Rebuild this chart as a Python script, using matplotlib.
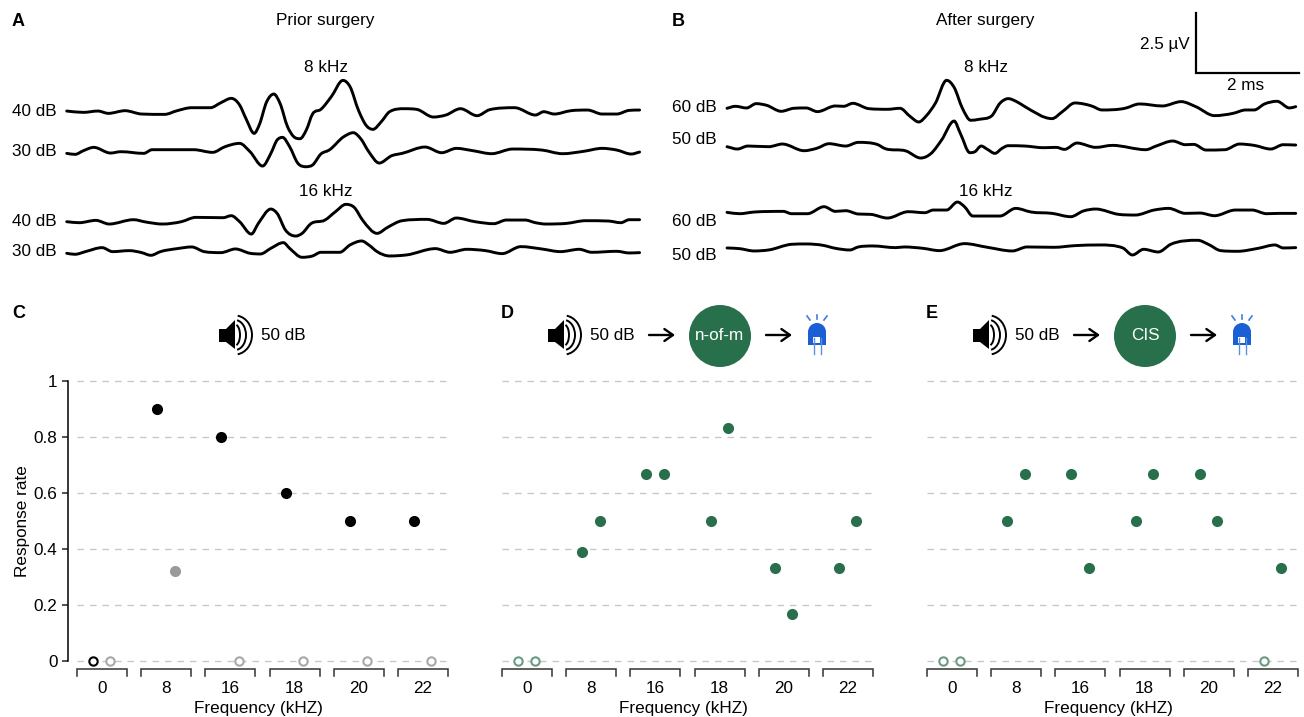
import matplotlib
matplotlib.use('Agg')
import matplotlib.pyplot as plt
from matplotlib.patches import Arc, Circle, PathPatch, Polygon, Rectangle, Wedge
from matplotlib.path import Path
import numpy as np

plt.rcParams['font.family'] = ['Liberation Sans', 'DejaVu Sans']
plt.rcParams['font.size'] = 12.3

# Evoked traces, time in 1/123.6 ms, amplitude in 1/72 uV
a1_t = [160,200,235,260,300,340,395,425,460,505,530,555,575,590,610,622,640,657,672,690,705,720,735,750,770,795,823,840,860,880,895,915,935,970,1000,1040,1070,1105,1145,1175,1235,1285,1305,1330,1370,1410,1445,1480,1510,1535]
a1_v = [2,-2,2,-5,3,-7,-8,3,12,12,27,40,20,-20,-65,-40,30,53,25,-45,-75,-81,-55,-7,7,45,94,75,5,-43,-53,-30,0,9,7,-16,-10,9,-12,6,12,-10,0,-7,3,5,-7,-7,4,5]
a2_t = [160,180,200,225,265,290,345,365,400,465,510,540,575,600,630,650,665,678,695,715,735,750,770,790,825,848,865,885,910,940,965,1020,1060,1095,1135,1180,1230,1300,1350,1400,1445,1480,1515,1535]
a2_v = [-5,-8,3,13,-4,0,-5,6,6,6,-2,15,25,0,-43,-5,35,43,15,-35,-45,-40,-7,5,45,57,40,0,-34,-12,-5,14,-3,10,3,-6,8,5,-6,1,10,5,-7,-1]
a3_t = [160,190,230,262,320,350,390,435,470,535,555,575,603,620,650,665,685,710,725,745,780,805,830,850,870,905,930,965,1025,1065,1095,1140,1185,1215,1260,1285,1310,1360,1405,1460,1490,1510,1535]
a3_v = [0,-3,4,-7,6,-1,-7,0,13,12,18,0,-37,-5,38,25,-25,-43,-35,-7,5,30,52,43,5,-35,-17,3,7,-5,11,0,-6,5,5,-3,-7,-5,3,2,-3,6,6]
a4_t = [160,180,205,245,270,310,340,362,385,425,460,490,530,565,600,625,650,680,695,725,750,770,815,840,868,885,905,935,975,1045,1080,1120,1165,1205,1250,1300,1345,1390,1420,1480,1510,1535]
a4_v = [-3,-6,2,14,2,5,-1,-9,2,11,16,2,-1,10,-3,-5,12,29,12,-15,-11,0,0,22,34,22,2,-11,-8,11,0,9,5,-4,17,10,2,9,0,3,-2,-1]
b1_t = [185,205,232,255,280,315,345,375,402,445,465,487,525,570,600,625,645,665,685,712,730,750,770,790,820,840,860,880,900,965,990,1020,1060,1085,1140,1175,1230,1275,1310,1355,1400,1430,1450,1475,1505,1535,1550]
b1_v = [0,6,1,14,9,-9,0,1,-10,7,6,15,-1,-3,0,-25,-41,-20,15,84,63,0,-36,-33,-23,15,29,20,5,-31,-10,16,7,-5,0,13,7,20,5,-22,-15,-5,-5,13,21,1,5]
b2_t = [185,210,235,285,318,370,400,430,470,500,545,565,615,650,675,700,730,745,768,780,795,810,828,845,860,900,945,975,995,1025,1070,1110,1190,1215,1255,1285,1305,1335,1380,1415,1450,1490,1520,1550]
b2_v = [0,-7,2,0,8,-12,-5,9,2,13,7,-6,-13,-34,-20,20,77,40,-18,-15,2,-8,-20,-5,3,2,-3,-2,-8,11,-2,4,-9,2,17,6,7,-10,-9,8,4,-7,6,5]
b3_t = [185,215,250,320,340,378,418,445,470,500,530,570,620,660,680,712,738,755,775,840,878,915,965,1010,1040,1070,1125,1165,1210,1245,1285,1320,1355,1405,1445,1480,1510,1550]
b3_v = [1,-3,2,4,-3,-3,18,4,6,-4,-5,-16,3,0,8,8,32,18,-10,-10,13,2,-2,-12,5,11,-5,-7,8,13,-2,-1,-9,8,8,-3,-2,-2]
b4_t = [185,215,250,285,340,375,415,445,480,500,535,590,610,655,695,755,810,870,905,970,1020,1080,1135,1158,1185,1220,1250,1315,1340,1370,1410,1460,1500,1520,1550]
b4_v = [1,-1,-8,-5,12,13,9,0,-5,4,7,2,4,0,-7,14,3,-8,4,3,8,10,1,-20,-3,-11,12,24,12,-7,-9,0,10,1,2]

# Response rates, first and second recording in each frequency group
freq_labels = ['0', '8', '16', '18', '20', '22']
c_first = [0, 0.9, 0.8, 0.6, 0.5, 0.5]
c_second = [0, 0.32, 0, 0, 0, 0]
d_first = [0, 0.39, 0.667, 0.5, 0.333, 0.333]
d_second = [0, 0.5, 0.667, 0.833, 0.167, 0.5]
e_first = [0, 0.5, 0.667, 0.5, 0.667, 0]
e_second = [0, 0.667, 0.333, 0.667, 0.5, 0.333]

W, H = 1304, 717
GREEN = '#27704b'
LIGHT_GREEN = '#6b9a82'
BLUE = '#1b5fd6'
PX_PER_MS = 51.5
PX_PER_UV = 24.0

fig = plt.figure(figsize=(W / 100, H / 100), dpi=100)

# trace axes in real units, pixel axes for the text and icons
tr = fig.add_axes([0, 0, 1, 1])
tr.set_xlim(0, W / PX_PER_MS)
tr.set_ylim(-H / PX_PER_UV, 0)
tr.axis('off')

ov = fig.add_axes([0, 0, 1, 1])
ov.set_xlim(0, W)
ov.set_ylim(H, 0)
ov.axis('off')
ov.patch.set_alpha(0)


def draw_trace(t, v, x0, y0):
    t = (np.array(t, dtype=float) - t[0]) / 123.6 + x0 / PX_PER_MS
    v = np.array(v, dtype=float) / 72 - y0 / PX_PER_UV
    # central tangents, limited so the curve does not overshoot at the turning points
    d = np.diff(v) / np.diff(t)
    m = np.gradient(v, t)
    for i in range(1, len(t) - 1):
        if d[i - 1] * d[i] <= 0:
            m[i] = 0
        else:
            m[i] = np.sign(d[i]) * min(abs(m[i]), 3 * abs(d[i - 1]), 3 * abs(d[i]))
    verts = [(t[0], v[0])]
    codes = [Path.MOVETO]
    for i in range(len(t) - 1):
        dt = (t[i + 1] - t[i]) / 3
        verts += [(t[i] + dt, v[i] + m[i] * dt), (t[i + 1] - dt, v[i + 1] - m[i + 1] * dt), (t[i + 1], v[i + 1])]
        codes += [Path.CURVE4] * 3
    tr.add_patch(PathPatch(Path(verts, codes), fill=False, ec='black', lw=2.1, capstyle='round', joinstyle='round'))


draw_trace(a1_t, a1_v, 66.7, 111.7)
draw_trace(a2_t, a2_v, 66.7, 151.7)
draw_trace(a3_t, a3_v, 66.7, 221.7)
draw_trace(a4_t, a4_v, 66.7, 252.3)
draw_trace(b1_t, b1_v, 727, 108.3)
draw_trace(b2_t, b2_v, 727, 146.7)
draw_trace(b3_t, b3_v, 727, 212.7)
draw_trace(b4_t, b4_v, 727, 248.3)

# scale bar, 2 ms and 2.5 uV
sx, sy = 1195.5 / PX_PER_MS, -73 / PX_PER_UV
tr.plot([sx, sx, sx + 2], [sy + 2.5, sy, sy], color='black', lw=1.6, solid_joinstyle='miter')
ov.text(1190, 44.5, '2.5 µV', ha='right', va='center')
ov.text(1246, 86, '2 ms', ha='center', va='center')

ov.text(325, 20.5, 'Prior surgery', ha='center', va='center')
ov.text(985, 20.5, 'After surgery', ha='center', va='center')
for x in [326, 986]:
    ov.text(x, 67, '8 kHz', ha='center', va='center')
    ov.text(x, 191, '16 kHz', ha='center', va='center')
for y, s in zip([111, 151, 221, 251], ['40 dB', '30 dB', '40 dB', '30 dB']):
    ov.text(57, y, s, ha='right', va='center')
for y, s in zip([107, 140, 222, 256], ['60 dB', '50 dB', '60 dB', '50 dB']):
    ov.text(717, y, s, ha='right', va='center')

for x, y, s in [(12, 21.5, 'A'), (672, 21.5, 'B'), (12, 314, 'C'), (501, 314, 'D'), (926, 314, 'E')]:
    ov.text(x, y, s, ha='left', va='center', fontsize=13, fontweight='bold')


def speaker(dx):
    ov.add_patch(Polygon([(548 + dx, 329), (555 + dx, 329), (564 + dx, 320), (564 + dx, 349),
                          (555 + dx, 342), (548 + dx, 342)], fc='black', ec='none'))
    for rx, ry in [(5, 10.5), (11, 15), (17, 19.5)]:
        ov.add_patch(Arc((564 + dx, 335), 2 * rx, 2 * ry, theta1=-82, theta2=82, color='black', lw=1.4))
    ov.text(612 + dx, 335, '50 dB', ha='center', va='center')


def arrow(x0, x1):
    ov.annotate('', xy=(x1, 335), xytext=(x0, 335),
                arrowprops=dict(arrowstyle='->,head_length=0.5,head_width=0.35', color='black', lw=1.7,
                                shrinkA=0, shrinkB=0))


def led(cx):
    ov.add_patch(Wedge((cx, 332), 9, 180, 360, fc=BLUE, ec='none'))
    ov.add_patch(Rectangle((cx - 9, 332), 18, 13, fc=BLUE, ec='none'))
    ov.add_patch(Rectangle((cx - 4, 337), 7, 6, fc='white', ec='none'))
    ov.plot([cx - 3, cx - 3], [338, 354], color='#5b8fe6', lw=1)
    ov.plot([cx + 4, cx + 4], [338, 354], color='#5b8fe6', lw=1)
    ov.plot([cx - 10, cx - 7], [316, 320], color='#3f7ce0', lw=1.2)
    ov.plot([cx, cx], [315, 319], color='#3f7ce0', lw=1.2)
    ov.plot([cx + 10, cx + 7], [316, 320], color='#3f7ce0', lw=1.2)


speaker(-329)
for dx, name in [(0, 'n-of-m'), (425, 'CIS')]:
    speaker(dx)
    arrow(649 + dx, 675 + dx)
    ov.add_patch(Circle((720 + dx, 336), 31, fc=GREEN, ec='none'))
    ov.text(720 + dx, 336, name, ha='center', va='center', color='white')
    arrow(766 + dx, 792 + dx)
    led(817 + dx)


def panel(off, first, second, col1, col1_open, col2, col2_open, show_y):
    ax = fig.add_axes([(68 + off) / W, (H - 661) / H, 381 / W, 280 / H])
    ax.set_xlim(-0.53, 5.405)
    ax.set_ylim(0, 1)
    ax.patch.set_alpha(0)
    for s in ['top', 'right', 'bottom']:
        ax.spines[s].set_visible(False)
    for y in [0, 0.2, 0.4, 0.6, 0.8, 1]:
        ax.plot([-0.39, 5.405], [y, y], color='#c8c8c8', lw=1, dashes=(4.7, 4.3), clip_on=False, zorder=1)

    groups = np.arange(len(freq_labels))
    for i in groups:
        ax.plot([i - 0.39, i - 0.39, i + 0.39, i + 0.39], [-0.054, -0.029, -0.029, -0.054],
                color='#333333', lw=1.1, clip_on=False, solid_joinstyle='miter')

    for vals, dodge, col, col_open in [(first, -0.14, col1, col1_open), (second, 0.13, col2, col2_open)]:
        vals = np.array(vals)
        on = vals > 0
        ax.plot(groups[on] + dodge, vals[on], 'o', ms=8, color=col, mec='none', clip_on=False, zorder=3)
        ax.plot(groups[~on] + dodge, vals[~on], 'o', ms=6, mfc='white', mec=col_open, mew=1.5,
                clip_on=False, zorder=3)

    ax.set_xticks(groups)
    ax.set_xticklabels(freq_labels)
    ax.tick_params(axis='x', length=0, pad=14.5)
    ax.set_xlabel('Frequency (kHZ)', labelpad=3.5)
    ax.set_yticks([0, 0.2, 0.4, 0.6, 0.8, 1])
    if show_y:
        ax.set_yticklabels(['0', '0.2', '0.4', '0.6', '0.8', '1'])
        ax.tick_params(axis='y', length=4.5, width=1.1, pad=3, color='#222222')
        ax.spines['left'].set_linewidth(1.1)
        ax.set_ylabel('Response rate', labelpad=3)
    else:
        ax.spines['left'].set_visible(False)
        ax.tick_params(axis='y', left=False, labelleft=False)


panel(0, c_first, c_second, 'black', 'black', '#9a9a9a', '#a8a8a8', True)
panel(425, d_first, d_second, GREEN, LIGHT_GREEN, GREEN, LIGHT_GREEN, False)
panel(850, e_first, e_second, GREEN, LIGHT_GREEN, GREEN, LIGHT_GREEN, False)

fig.savefig('out.png', dpi=100)
